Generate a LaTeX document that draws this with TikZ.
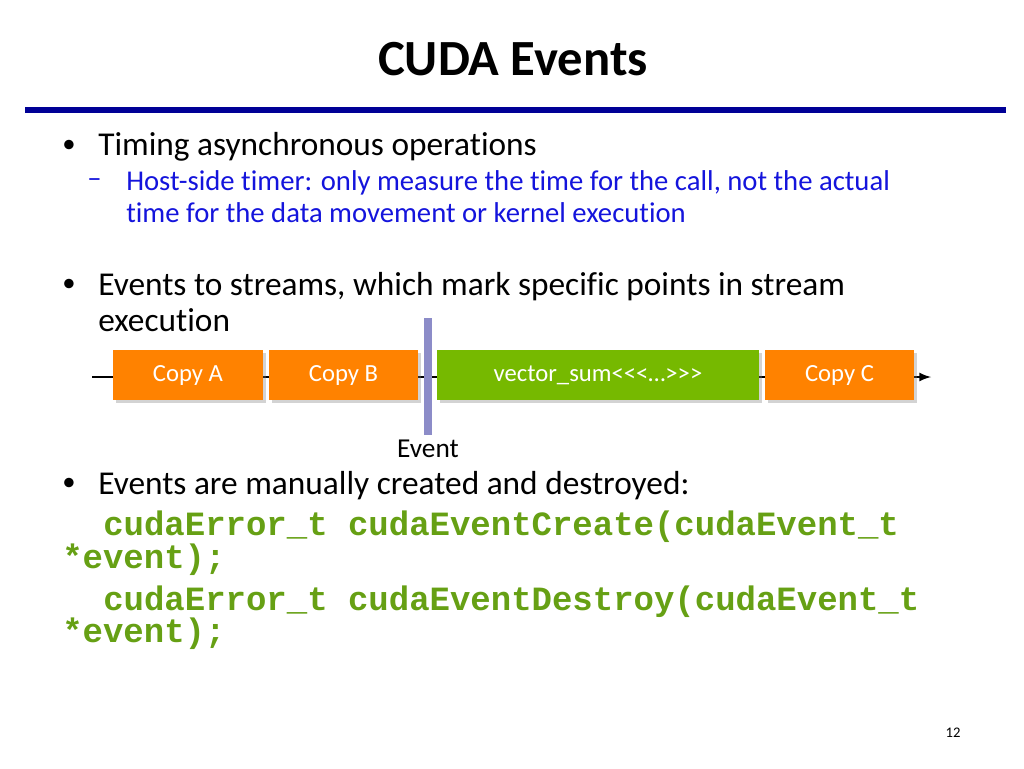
\documentclass[tikz,border=0pt]{standalone}
\usepackage{fontspec}
\setmainfont[Ligatures=NoCommon]{Carlito}
\newfontfamily\codefont{Liberation Mono}
\usetikzlibrary{shadows}
\definecolor{rulec}{RGB}{0,0,150}
\definecolor{subc}{RGB}{20,20,220}
\definecolor{orangec}{RGB}{255,130,0}
\definecolor{greenc}{RGB}{118,185,0}
\definecolor{codec}{RGB}{102,160,20}
\definecolor{evc}{RGB}{140,140,200}
\begin{document}
\begin{tikzpicture}[x=0.75pt,y=-0.75pt,
  box/.style={minimum height=37.5pt,inner sep=0pt,text=white,font=\fontsize{18.5}{22}\selectfont,drop shadow={opacity=0.35,shadow xshift=2pt,shadow yshift=-2pt}},
  orangebox/.style={box,fill=orangec},
  greenbox/.style={box,fill=greenc},
  txt/.style={anchor=west,inner sep=0pt,font=\fontsize{25}{30}\selectfont},
  bul/.style={inner sep=0pt,font=\fontsize{20}{24}\selectfont},
  subtxt/.style={anchor=west,inner sep=0pt,text=subc,font=\fontsize{21.5}{26}\selectfont},
  code/.style={anchor=west,inner sep=0pt,text=codec,font=\codefont\bfseries\fontsize{25.5}{30}\selectfont}]
\useasboundingbox (0,0) rectangle (1024,768);
\node[font=\bfseries\fontsize{38}{44}\selectfont] (title) at (513,59) {CUDA Events};
\draw[rulec,line width=4.5pt] (25,110) -- (1006,110);
\node[bul] (b1) at (69,146) {•};
\node[txt] (t1) at (98,147) {Timing asynchronous operations};
\node[subtxt] (d1) at (87,183) {–};
\node[subtxt] (s1) at (126,183) {Host-side timer: only measure the time for the call, not the actual};
\node[subtxt] (s2) at (126,213) {time for the data movement or kernel execution};
\node[bul] (b2) at (69,285) {•};
\node[txt] (t2) at (98,287) {Events to streams, which mark specific points in stream};
\node[txt] (t2b) at (98,320) {execution};
\coordinate (ls) at (92,377);
\coordinate (le) at (931,377);
\draw[line width=2pt,-latex] (ls) -- (le);
\node[orangebox,minimum width=112.5pt] (ca) at (188,375) {Copy A};
\node[orangebox,minimum width=111.75pt] (cb) at (343.5,375) {Copy B};
\node[greenbox,minimum width=241.5pt] (vs) at (598,375) {vector\_sum<{}<{}<…>{}>{}>};
\node[orangebox,minimum width=111.75pt] (cc) at (839.5,375) {Copy C};
\fill[evc] (424,318) rectangle (432,435);
\node[inner sep=0pt,font=\fontsize{20.5}{24}\selectfont] (ev) at (428,449) {Event};
\node[bul] (b3) at (69,484) {•};
\node[txt] (t3) at (98,486) {Events are manually created and destroyed:};
\node[code] (c1) at (103,527) {cudaError\_t cudaEventCreate(cudaEvent\_t};
\node[code] (c2) at (62,560) {*event);};
\node[code] (c3) at (103,602) {cudaError\_t cudaEventDestroy(cudaEvent\_t};
\node[code] (c4) at (62,634) {*event);};
\node[inner sep=0pt,font=\fontsize{11}{13}\selectfont] (pg) at (953,733) {12};
\end{tikzpicture}
\end{document}
